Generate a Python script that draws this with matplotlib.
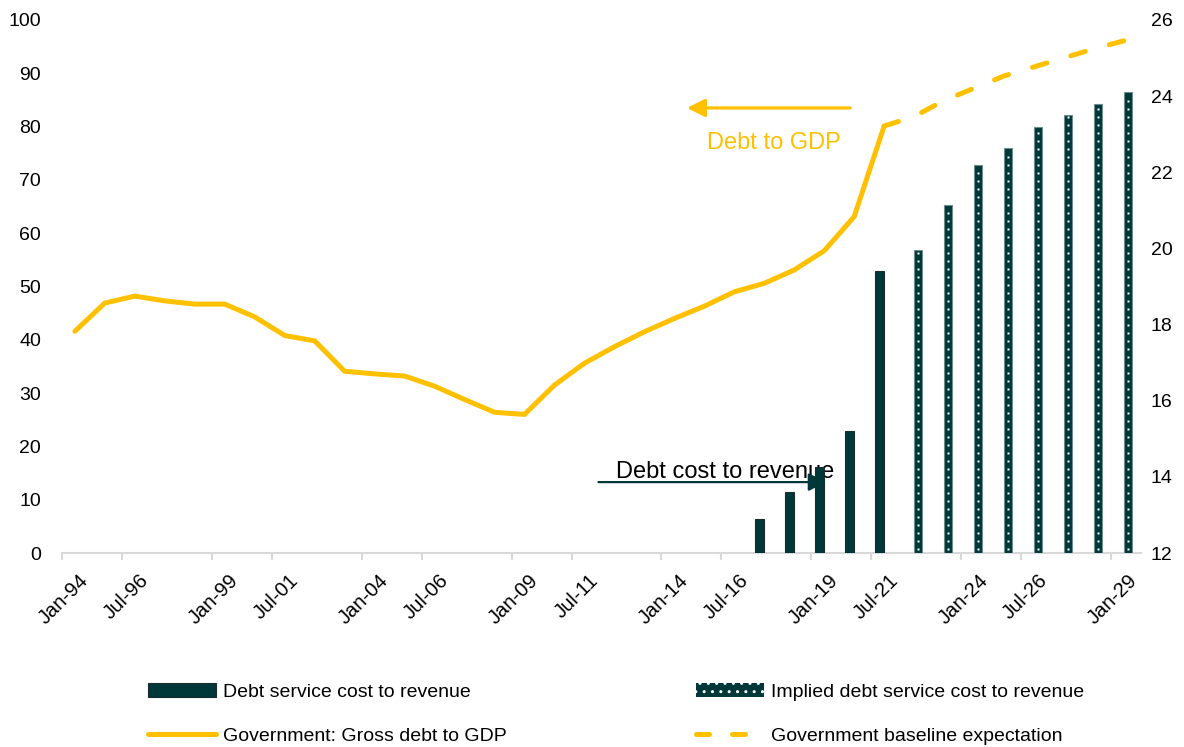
import numpy as np
import matplotlib
matplotlib.use("Agg")
import matplotlib.pyplot as plt
import matplotlib.patches as mpatches
import matplotlib.lines as mlines
from matplotlib.transforms import ScaledTranslation

plt.rcParams['font.family'] = ['Liberation Sans', 'DejaVu Sans']

# Gross debt to GDP (%), annual
debt_years = list(range(1994, 2022))
debt_gdp = [41.6, 46.9, 48.2, 47.3, 46.7, 46.7, 44.3, 40.8, 39.8, 34.1,
            33.6, 33.2, 31.3, 28.8, 26.4, 26.0, 31.5, 35.6, 38.7, 41.5,
            44.0, 46.3, 49.0, 50.6, 53.1, 56.7, 63.1, 80.1]

# Government baseline expectation (%), from the last actual
base_years = list(range(2021, 2030))
base_gdp = [80.1, 81.9, 84.9, 87.2, 89.5, 91.2, 92.9, 94.6, 96.1]

# Debt service cost to revenue (%), right axis
cost_years = [2017, 2018, 2019, 2020, 2021]
cost_rev = [12.9, 13.6, 14.25, 15.2, 19.4]

# Implied debt service cost to revenue (%), right axis
impl_years = [2022, 2023, 2024, 2025, 2026, 2027, 2028, 2029]
impl_rev = [19.95, 21.15, 22.2, 22.65, 23.2, 23.5, 23.8, 24.1]

tick_years = [1994, 1996, 1999, 2001, 2004, 2006, 2009, 2011, 2014, 2016,
              2019, 2021, 2024, 2026, 2029]
tick_labels = ['Jan-94', 'Jul-96', 'Jan-99', 'Jul-01', 'Jan-04', 'Jul-06',
               'Jan-09', 'Jul-11', 'Jan-14', 'Jul-16', 'Jan-19', 'Jul-21',
               'Jan-24', 'Jul-26', 'Jan-29']

YELLOW = '#FFC000'
TEAL = '#00383A'
AXIS_GREY = '#D9D9D9'

fig = plt.figure(figsize=(11.84, 7.47), dpi=100)
ax = fig.add_axes([62 / 1184, 1 - 553 / 747, (1141 - 62) / 1184, (553 - 20) / 747])
ax2 = ax.twinx()

# points sit inside each yearly slot
slot = 0.43
bar_w = 0.3

ax.plot(np.array(debt_years) + slot, debt_gdp, color=YELLOW, lw=3.6,
        solid_joinstyle='miter', solid_capstyle='round', zorder=3)
ax.plot(np.array(base_years) + slot, base_gdp, color=YELLOW, lw=3.6,
        dashes=(3, 5), dash_capstyle='round', zorder=3)

ax2.bar(np.array(cost_years) + slot - 0.15, np.array(cost_rev) - 12, bottom=12,
        width=bar_w, color=TEAL, edgecolor='#1C2B2B', lw=0.8, zorder=2)
impl_x = np.array(impl_years) + slot + 0.13
ax2.bar(impl_x, np.array(impl_rev) - 12, bottom=12, width=bar_w * 0.85,
        color=TEAL, edgecolor='#6F8C8C', lw=0.8, zorder=2)

# white dot column inside each implied bar
step = 0.21
for xv, top in zip(impl_x, impl_rev):
    ys = np.arange(12 + step / 2, top - 0.05, step)
    ax2.plot(np.full_like(ys, xv), ys, ls='none', marker='s', ms=1.8,
             mfc='white', mec='none', zorder=4)

ax.set_xlim(1994, 2030)
ax.set_ylim(0, 100)
ax2.set_ylim(12, 26)
ax.set_yticks(range(0, 101, 10))
ax2.set_yticks(range(12, 27, 2))

for a in (ax, ax2):
    for s in a.spines.values():
        s.set_visible(False)
ax.spines['bottom'].set_visible(True)
ax.spines['bottom'].set_color(AXIS_GREY)
ax.spines['bottom'].set_linewidth(1.5)

ax.set_xticks(tick_years)
ax.set_xticklabels(tick_labels, rotation=45, ha='right', va='top',
                   rotation_mode='anchor')
ax.tick_params(axis='x', length=5, width=1.5, color=AXIS_GREY, pad=8,
               labelsize=14.5)
offset = ScaledTranslation(17 / 100, 0, fig.dpi_scale_trans)
for lab in ax.get_xticklabels():
    lab.set_transform(lab.get_transform() + offset)
ax.tick_params(axis='y', length=0, pad=15, labelsize=14)
ax2.tick_params(axis='y', length=0, pad=7, labelsize=14)

# annotations
ax.text(2012.5, 14.1, 'Debt cost to revenue', fontsize=17, color='black',
        ha='left', va='baseline', zorder=1)
ax2.annotate('', xy=(2019.5, 12 + 13.3 * 14 / 100), xytext=(2011.9, 12 + 13.3 * 14 / 100),
             arrowprops=dict(arrowstyle='-|>', color=TEAL, lw=1.6,
                             mutation_scale=27, shrinkA=0, shrinkB=0), zorder=5)
ax.annotate('', xy=(2014.85, 83.5), xytext=(2020.3, 83.5),
            arrowprops=dict(arrowstyle='-|>', color=YELLOW, lw=2.3,
                            mutation_scale=27, shrinkA=0, shrinkB=0))
ax.text(2017.75, 77.0, 'Debt to GDP', fontsize=17, color=YELLOW,
        ha='center', va='center')

handles = [
    mpatches.Patch(facecolor=TEAL, edgecolor='#1C2B2B', lw=0.8,
                   label='Debt service cost to revenue'),
    mlines.Line2D([], [], color=YELLOW, lw=3.6, solid_capstyle='round',
                  label='Government: Gross debt to GDP'),
    mpatches.Patch(facecolor=TEAL, edgecolor='white', lw=0, hatch='..',
                   label='Implied debt service cost to revenue'),
    mlines.Line2D([], [], color=YELLOW, lw=3.6, dashes=(2.6, 4.6),
                  dash_capstyle='round', label='Government baseline expectation'),
]
fig.legend(handles=handles, ncol=2, loc='center',
           bbox_to_anchor=(616 / 1184, 1 - 714 / 747), frameon=False,
           fontsize=14, handlelength=3.5, handletextpad=0.35,
           columnspacing=9.75, labelspacing=1.35)

fig.savefig('out.png', dpi=100)
